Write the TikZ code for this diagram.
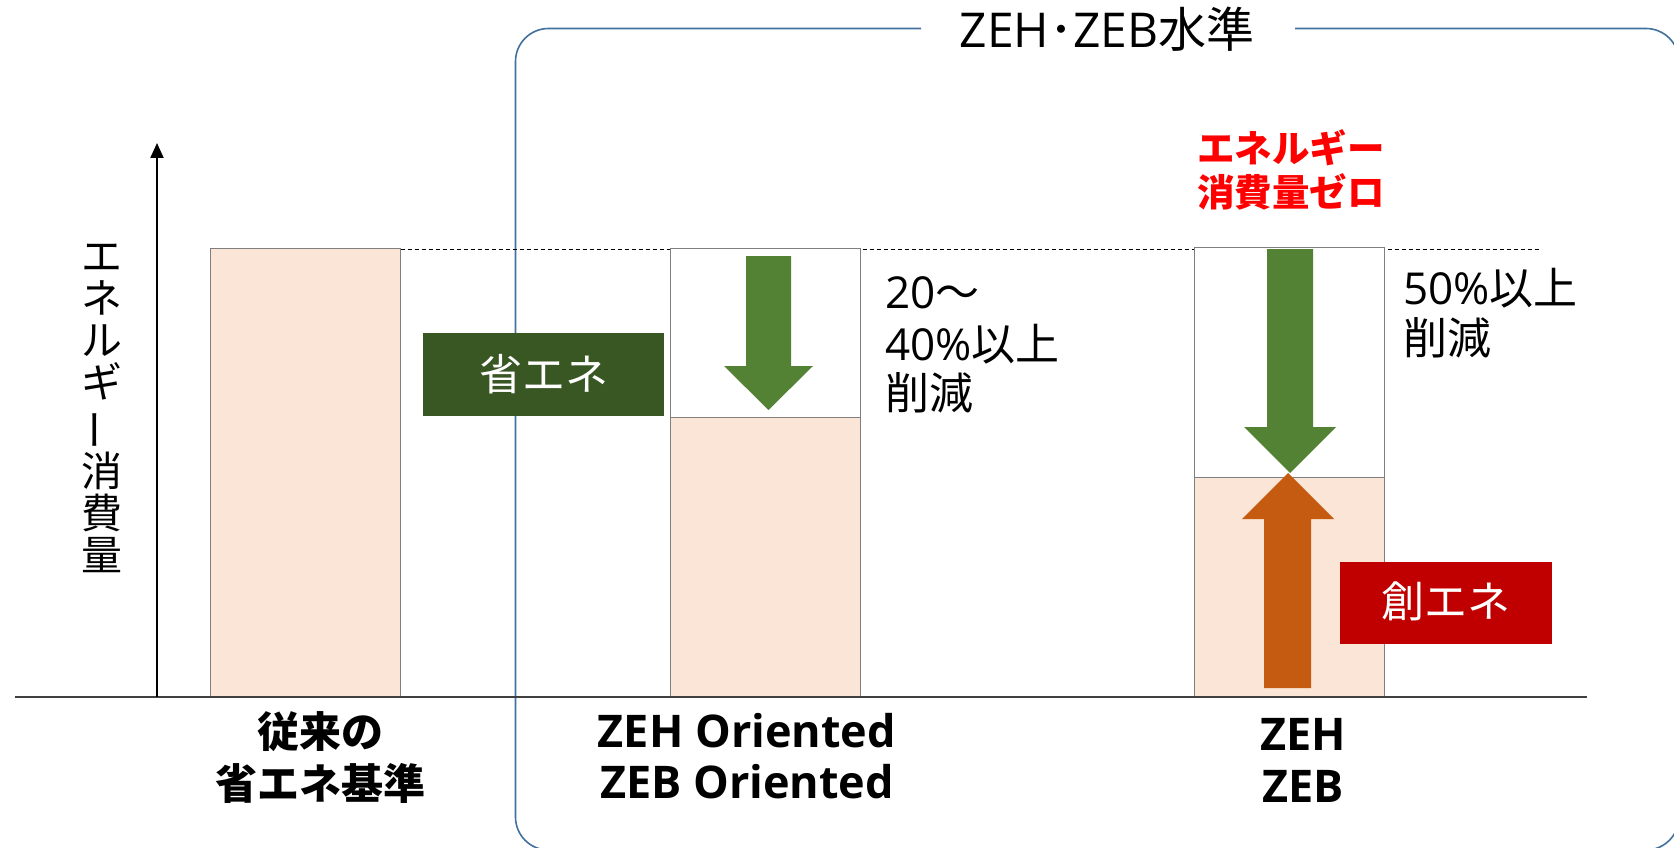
\documentclass[tikz,border=0pt]{standalone}
\usepackage{fontspec}
\usepackage{graphicx}
\setmainfont{Noto Sans CJK JP}
\newfontfamily\latfont{Open Sans}
\newcommand\latn[1]{{\latfont #1}}
\usetikzlibrary{arrows.meta}
\definecolor{peach}{RGB}{251,229,214}
\definecolor{barline}{RGB}{127,127,127}
\definecolor{framecol}{RGB}{65,113,156}
\definecolor{savegreen}{RGB}{56,87,35}
\definecolor{arrowgreen}{RGB}{84,130,53}
\definecolor{arroworange}{RGB}{197,90,17}
\definecolor{createred}{RGB}{192,0,0}
\definecolor{axisgray}{RGB}{64,64,64}
\tikzset{
  peachbar/.style={draw=barline, line width=1pt, fill=peach},
  blankbar/.style={draw=barline, line width=1pt, fill=white},
  txt/.style={inner sep=0pt, anchor=base},
  pct/.style={inner sep=0pt, anchor=base west, font=\fontsize{44}{50}\selectfont},
  redtxt/.style={inner sep=0pt, anchor=base, text=red, font=\fontsize{37.5}{42}\bfseries\selectfont},
  bottomtxt/.style={inner sep=0pt, anchor=base, font=\fontsize{42}{50}\bfseries\selectfont},
  bottomlat/.style={inner sep=0pt, anchor=base, font=\fontsize{45}{50}\latfont\bfseries\selectfont},
  tagbox/.style={inner sep=0pt, text=white, font=\fontsize{43}{48}\selectfont},
}
\begin{document}
\begin{tikzpicture}[x=1pt,y=-1pt]
\useasboundingbox (0,0) rectangle (1674,848);
\fill[white] (0,0) rectangle (1674,848);
% frame
\draw[framecol, line width=1.6pt, rounded corners=33pt]
  (1295,28.5) -- (1679,28.5) -- (1679,850) -- (515.5,850) -- (515.5,28.5) -- (921,28.5);
\node[txt, font=\fontsize{48}{52}\selectfont] (title) at (1107,48) {\latn{ZEH}･\latn{ZEB}水準};
% dashed reference line
\draw[black, line width=1.5pt, dash pattern=on 4pt off 3pt] (400.5,249.5) -- (1541,249.5);
% bars
\draw[peachbar] (210.5,248) rectangle (400.5,697);
\draw[blankbar] (670,248) rectangle (860,417);
\draw[peachbar] (670,417) rectangle (860,697);
\draw[blankbar] (1194,247) rectangle (1384,477);
\draw[peachbar] (1194,477) rectangle (1384,697);
% axes
\draw[axisgray, line width=1.8pt] (15,697) -- (1587,697);
\draw[black, line width=2pt, -{Triangle[width=13pt,length=15pt]}] (157,697) -- (157,143);
\node[inner sep=0pt, align=center, font=\fontsize{41}{42}\selectfont] (ylab) at (102,408)
  {エ\\ネ\\ル\\ギ\\\rotatebox[origin=c]{90}{ー}\\消\\費\\量};
% arrows
\fill[arrowgreen] (746,256) -- (791,256) -- (791,366) -- (813,366) -- (768.5,410) -- (724,366) -- (746,366) -- cycle;
\fill[arrowgreen] (1267,249) -- (1313,249) -- (1313,427) -- (1336,427) -- (1290,473) -- (1244,427) -- (1267,427) -- cycle;
\fill[arroworange] (1264,688) -- (1311,688) -- (1311,519) -- (1334,519) -- (1288,473) -- (1242,519) -- (1264,519) -- cycle;
% tag boxes
\node[tagbox, fill=savegreen, minimum width=241pt, minimum height=83pt] (save) at (543.5,374.5) {\raisebox{5pt}{省エネ}};
\node[tagbox, fill=createred, minimum width=212pt, minimum height=82pt] (create) at (1446,603) {\raisebox{6pt}{創エネ}};
% reduction texts
\node[pct] (r1a) at (885,308) {\latn{20}～};
\node[pct] (r1b) at (885,360) {\latn{40\%}以上};
\node[pct] (r1c) at (885,409) {削減};
\node[pct] (r2a) at (1403,304) {\latn{50\%}以上};
\node[pct] (r2b) at (1403,354) {削減};
% red text
\node[redtxt] (zero1) at (1291,163) {エネルギー};
\node[redtxt] (zero2) at (1291,206) {消費量ゼロ};
% bottom labels
\node[bottomtxt] (b1a) at (320,747) {従来の};
\node[bottomtxt] (b1b) at (320,799) {省エネ基準};
\node[bottomlat] (b2a) at (747,747) {ZEH Oriented};
\node[bottomlat] (b2b) at (747,798) {ZEB Oriented};
\node[bottomlat] (b3a) at (1303,750) {ZEH};
\node[bottomlat] (b3b) at (1303,802) {ZEB};
\end{tikzpicture}
\end{document}
